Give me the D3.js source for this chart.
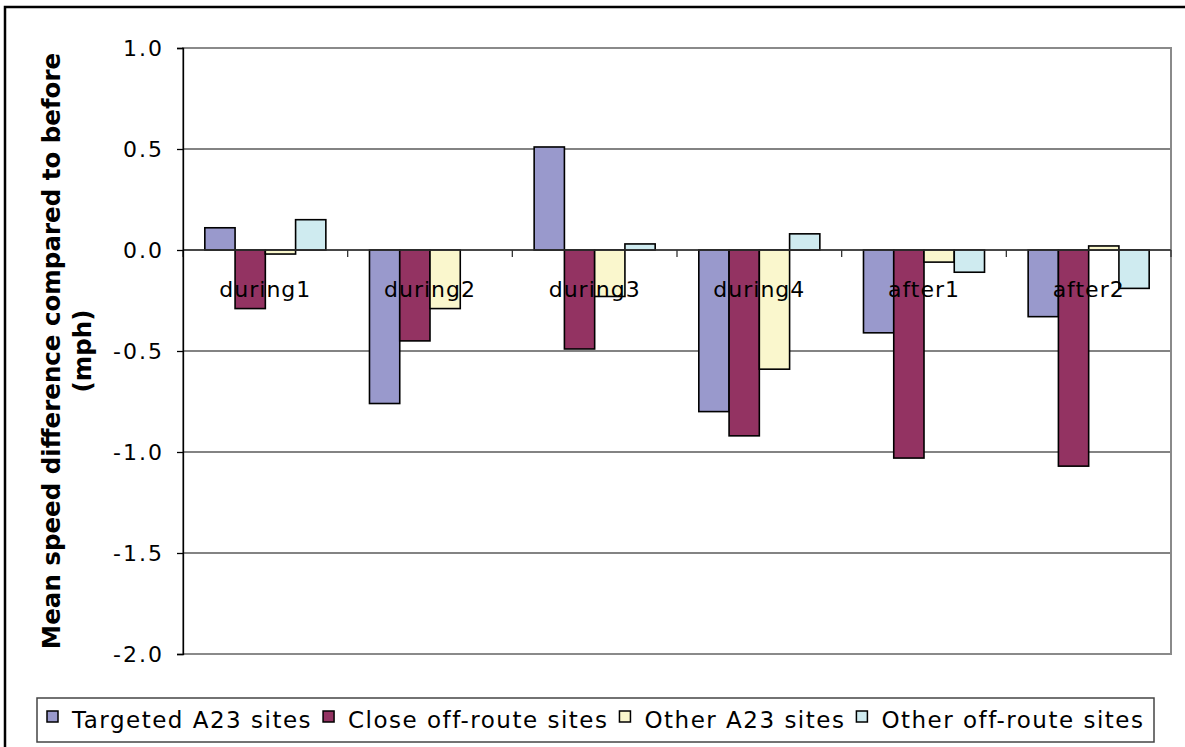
<!DOCTYPE html>
<html>
<head>
<meta charset="utf-8">
<script src="https://cdn.jsdelivr.net/npm/d3@7"></script>
<style>
  html, body { margin: 0; padding: 0; background: #fff; }
  svg { display: block; }
  text { font-family: "DejaVu Sans", Verdana, sans-serif; fill: #000; }
</style>
</head>
<body>
<svg id="chart" width="1185" height="747"></svg>
<script>
// Categories (periods) and the four site series
const categories = ["during1", "during2", "during3", "during4", "after1", "after2"];
const seriesNames = ["Targeted A23 sites", "Close off-route sites", "Other A23 sites", "Other off-route sites"];
const seriesColors = ["#9999CC", "#933362", "#FAF7CD", "#CFEBF0"];

// Mean speed difference compared to before (mph)
const targetedA23 = [0.11, -0.76, 0.51, -0.80, -0.41, -0.33];
const closeOffRoute = [-0.29, -0.45, -0.49, -0.92, -1.03, -1.07];
const otherA23 = [-0.02, -0.29, -0.23, -0.59, -0.06, 0.02];
const otherOffRoute = [0.15, 0.00, 0.03, 0.08, -0.11, -0.19];

const yTicks = [1.0, 0.5, 0.0, -0.5, -1.0, -1.5, -2.0];

const seriesValues = [targetedA23, closeOffRoute, otherA23, otherOffRoute];

const svg = d3.select("#chart");

// Outer chart border
svg.append("rect")
  .attr("x", 5).attr("y", 7).attr("width", 1300).attr("height", 900)
  .attr("fill", "none").attr("stroke", "#000").attr("stroke-width", 2.5);

const plot = { left: 183, right: 1171, top: 48, bottom: 654 };

const y = d3.scaleLinear().domain([-2, 1]).range([plot.bottom, plot.top]);

const x0 = d3.scaleBand()
  .domain(categories)
  .range([plot.left, plot.right])
  .paddingInner(0.265)
  .paddingOuter(0.1325);

const x1 = d3.scaleBand()
  .domain(d3.range(seriesNames.length))
  .range([0, x0.bandwidth()]);

const step = x0.step();

// Horizontal gridlines
svg.append("g")
  .selectAll("line")
  .data(yTicks.filter(v => v > -2 && v < 1))
  .join("line")
  .attr("x1", plot.left).attr("x2", plot.right)
  .attr("y1", d => y(d)).attr("y2", d => y(d))
  .attr("stroke", "#5a5a5a").attr("stroke-width", 1.3);

// Plot area frame
svg.append("rect")
  .attr("x", plot.left).attr("y", plot.top)
  .attr("width", plot.right - plot.left).attr("height", plot.bottom - plot.top)
  .attr("fill", "none").attr("stroke", "#8a8a8a").attr("stroke-width", 2);

// Bars
const rows = categories.map((c, i) => ({ cat: c, vals: seriesValues.map(s => s[i]) }));

svg.append("g")
  .selectAll("g")
  .data(rows)
  .join("g")
  .attr("transform", d => `translate(${x0(d.cat)},0)`)
  .selectAll("rect")
  .data(d => d.vals.map((v, k) => ({ v, k })))
  .join("rect")
  .attr("x", d => x1(d.k))
  .attr("width", x1.bandwidth())
  .attr("y", d => y(Math.max(0, d.v)))
  .attr("height", d => Math.abs(y(d.v) - y(0)))
  .attr("fill", d => seriesColors[d.k])
  .attr("stroke", "#000")
  .attr("stroke-width", 1.6);

// Category axis along zero with ticks between groups
const catAxis = svg.append("g");
catAxis.append("line")
  .attr("x1", plot.left).attr("x2", plot.right)
  .attr("y1", y(0)).attr("y2", y(0))
  .attr("stroke", "#333").attr("stroke-width", 1.3);
catAxis.selectAll("line.tick")
  .data(d3.range(categories.length + 1))
  .join("line")
  .attr("class", "tick")
  .attr("x1", i => plot.left + i * step).attr("x2", i => plot.left + i * step)
  .attr("y1", y(0)).attr("y2", y(0) + 7)
  .attr("stroke", "#333").attr("stroke-width", 1.3);

// Category labels
svg.append("g")
  .selectAll("text")
  .data(categories)
  .join("text")
  .attr("x", d => x0(d) + x0.bandwidth() / 2)
  .attr("y", y(0) + 47)
  .attr("text-anchor", "middle")
  .style("font-size", "22px")
  .style("letter-spacing", "1px")
  .text(d => d);

// Value axis
const yAxis = d3.axisLeft(y)
  .tickValues(yTicks)
  .tickSize(6)
  .tickPadding(13)
  .tickFormat(d3.format(".1f"));

const yg = svg.append("g")
  .attr("transform", `translate(${plot.left},0)`)
  .call(yAxis);
yg.select(".domain").attr("stroke", "#000").attr("stroke-width", 1.3);
yg.selectAll(".tick line").attr("stroke", "#000").attr("stroke-width", 1.3);
yg.selectAll(".tick text")
  .attr("fill", "#000")
  .style("font-family", "'DejaVu Sans', Verdana, sans-serif")
  .style("font-size", "22px")
  .style("letter-spacing", "2px")
  .text(d => d3.format(".1f")(d).replace("−", "-"));

// Value axis title
const titleG = svg.append("g")
  .attr("transform", `translate(0,${(plot.top + plot.bottom) / 2}) rotate(-90)`);
titleG.append("text")
  .attr("x", 0).attr("y", 60)
  .attr("text-anchor", "middle")
  .style("font-size", "24.5px")
  .style("font-weight", "bold")
  .text("Mean speed difference compared to before");
titleG.append("text")
  .attr("x", 0).attr("y", 91)
  .attr("text-anchor", "middle")
  .style("font-size", "24.5px")
  .style("font-weight", "bold")
  .text("(mph)");

// Legend
const legend = svg.append("g");
legend.append("rect")
  .attr("x", 37).attr("y", 698).attr("width", 1117).attr("height", 44)
  .attr("fill", "#fff").attr("stroke", "#444").attr("stroke-width", 1.5);

let lx = 47;
seriesNames.forEach((name, k) => {
  legend.append("rect")
    .attr("x", lx).attr("y", 711).attr("width", 11).attr("height", 11)
    .attr("fill", seriesColors[k]).attr("stroke", "#000").attr("stroke-width", 1.5);
  const t = legend.append("text")
    .attr("x", lx + 25).attr("y", 728)
    .style("font-size", "23px")
    .style("letter-spacing", "1.5px")
    .text(name);
  lx = lx + 25 + t.node().getComputedTextLength() + 11;
});
</script>
</body>
</html>
